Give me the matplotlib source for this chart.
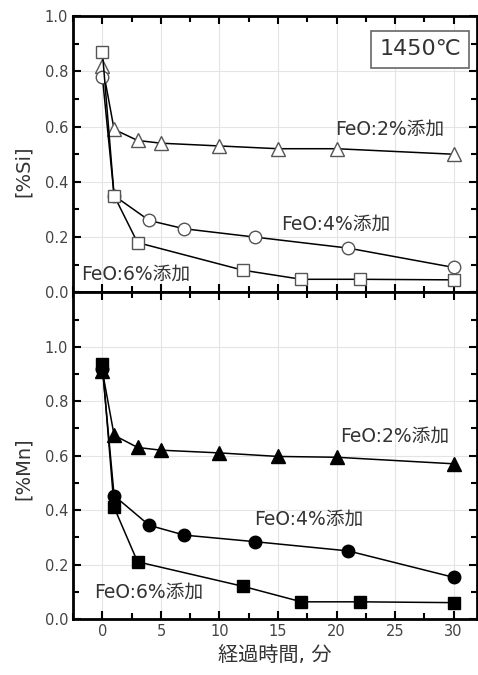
import matplotlib
matplotlib.use('Agg')
import matplotlib.pyplot as plt
from matplotlib.ticker import MultipleLocator

plt.rcParams['font.family'] = ['DejaVu Sans', 'Noto Sans CJK JP']

# Si (上段) - 白抜きマーカー
si_x_2 = [0, 1, 3, 5, 10, 15, 20, 30]
si_y_2 = [0.82, 0.59, 0.55, 0.54, 0.53, 0.52, 0.52, 0.50]
si_x_4 = [0, 1, 4, 7, 13, 21, 30]
si_y_4 = [0.78, 0.35, 0.26, 0.23, 0.20, 0.16, 0.09]
si_x_6 = [0, 1, 3, 12, 17, 22, 30]
si_y_6 = [0.87, 0.35, 0.18, 0.08, 0.047, 0.047, 0.045]

# Mn (下段) - 塗りつぶしマーカー
mn_x_2 = [0, 1, 3, 5, 10, 15, 20, 30]
mn_y_2 = [0.91, 0.675, 0.63, 0.62, 0.61, 0.597, 0.594, 0.57]
mn_x_4 = [0, 1, 4, 7, 13, 21, 30]
mn_y_4 = [0.92, 0.453, 0.344, 0.308, 0.284, 0.25, 0.153]
mn_x_6 = [0, 1, 3, 12, 17, 22, 30]
mn_y_6 = [0.935, 0.41, 0.21, 0.12, 0.063, 0.063, 0.06]

labels = ['FeO:2%添加', 'FeO:4%添加', 'FeO:6%添加']
xticks = [0, 5, 10, 15, 20, 25, 30]
yticks = [0.0, 0.2, 0.4, 0.6, 0.8, 1.0]

fig = plt.figure(figsize=(4.78, 6.75), dpi=100)
ax1 = fig.add_axes([0.153, 0.567, 0.845, 0.409])
ax2 = fig.add_axes([0.153, 0.083, 0.845, 0.484])

edge = '#555555'
ax1.plot(si_x_2, si_y_2, '-', color='black', lw=1.1, marker='^', ms=10, mfc='white', mec=edge, mew=1.0, zorder=3)
ax1.plot(si_x_4, si_y_4, '-', color='black', lw=1.1, marker='o', ms=9, mfc='white', mec=edge, mew=1.0, zorder=3)
ax1.plot(si_x_6, si_y_6, '-', color='black', lw=1.1, marker='s', ms=8.5, mfc='white', mec=edge, mew=1.0, zorder=3)

ax2.plot(mn_x_2, mn_y_2, '-', color='black', lw=1.1, marker='^', ms=10, mfc='black', mec='black', zorder=3)
ax2.plot(mn_x_4, mn_y_4, '-', color='black', lw=1.1, marker='o', ms=9, mfc='black', mec='black', zorder=3)
ax2.plot(mn_x_6, mn_y_6, '-', color='black', lw=1.1, marker='s', ms=8, mfc='black', mec='black', zorder=3)

for ax, top in [(ax1, 1.0), (ax2, 1.2)]:
    ax.set_xlim(-2.5, 32)
    ax.set_ylim(0, top)
    ax.set_xticks(xticks)
    ax.set_yticks(yticks)
    ax.xaxis.set_minor_locator(MultipleLocator(2.5))
    ax.yaxis.set_minor_locator(MultipleLocator(0.1))
    ax.grid(True, which='major', color='#e4e4e4', lw=0.8, zorder=0)
    ax.tick_params(which='both', direction='in', top=True, right=True, width=1.5, colors='black', labelcolor='#444444', labelsize=10.5)
    ax.tick_params(which='major', length=6)
    ax.tick_params(which='minor', length=4)
    for s in ax.spines.values():
        s.set_linewidth(2)
    ax.yaxis.set_major_formatter(matplotlib.ticker.FormatStrFormatter('%.1f'))

ax1.tick_params(labelbottom=False)
ax1.set_ylabel('[%Si]', fontsize=14, color='#333333')
ax2.set_ylabel('[%Mn]', fontsize=14, color='#333333')
ax1.yaxis.set_label_coords(-0.10, 0.44)
ax2.yaxis.set_label_coords(-0.10, 0.46)
ax2.set_xlabel('経過時間, 分', fontsize=14.5, color='#333333', labelpad=5)

txt = dict(fontsize=13.5, color='#333333', va='center', ha='left', zorder=4)
ax1.text(19.9, 0.59, labels[0], **txt)
ax1.text(15.3, 0.245, labels[1], **txt)
ax1.text(-1.8, 0.065, labels[2], **txt)
ax2.text(20.3, 0.67, labels[0], **txt)
ax2.text(13.0, 0.366, labels[1], **txt)
ax2.text(-0.7, 0.098, labels[2], **txt)

ax1.text(0.96, 0.88, '1450℃', transform=ax1.transAxes, fontsize=16, color='#333333',
         ha='right', va='center', bbox=dict(boxstyle='square,pad=0.38', fc='white', ec='#666666', lw=1.2), zorder=5)

fig.savefig('out.png', dpi=100)
